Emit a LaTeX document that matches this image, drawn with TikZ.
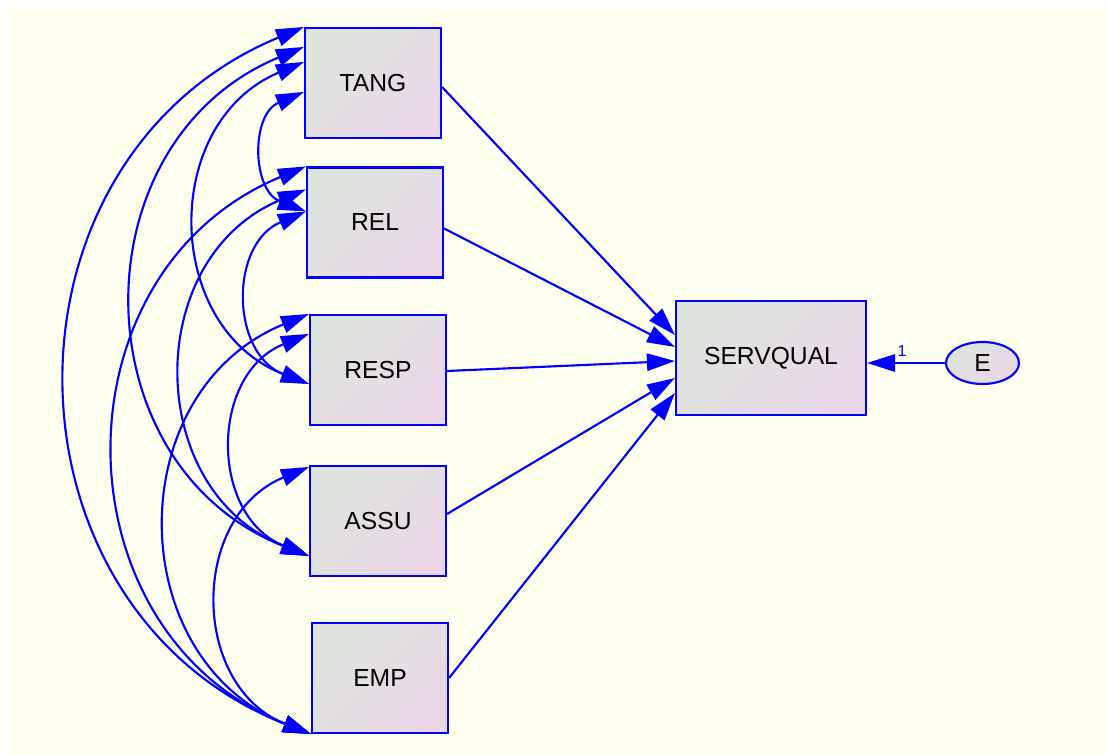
\documentclass[tikz,border=0pt]{standalone}
\usepackage{fontspec}
\setmainfont{Liberation Sans}
\usetikzlibrary{arrows.meta,calc,shapes.geometric}

\definecolor{amosblue}{rgb}{0,0,1}
\definecolor{boxgreen}{rgb}{0.87,0.90,0.87}
\definecolor{boxpink}{rgb}{0.92,0.84,0.91}
\definecolor{bgivory}{rgb}{1,1,0.94}

\tikzset{
  obsbox/.style={draw=amosblue, line width=1.6pt, top color=boxgreen, bottom color=boxpink, shading angle=45,
    minimum width=102pt, minimum height=82.5pt, inner sep=0pt, font=\fontsize{18.5}{20}\selectfont},
  errnode/.style={ellipse, draw=amosblue, line width=1.6pt, top color=boxgreen, bottom color=boxpink, shading angle=45,
    minimum width=54.75pt, minimum height=31.5pt, inner sep=0pt, font=\fontsize{18.5}{20}\selectfont},
  regarrow/.style={amosblue, line width=1.6pt, -{Triangle[length=21pt,width=13pt]}},
  covarrow/.style={amosblue, line width=1.6pt, {Triangle[length=21pt,width=13pt]}-{Triangle[length=21pt,width=13pt]},
    bend left=68, looseness=1.24}
}

\begin{document}
\begin{tikzpicture}[x=0.75pt,y=0.75pt,yscale=-1,xscale=1]
\useasboundingbox (0,0) rectangle (1108,755);

%Shape: Rectangle [background]
\fill [white] (0,0) rectangle (1108,755);
\fill [bgivory] (7,7) rectangle (1108,755);

% Observed variables
\node [obsbox] (TANG) at (373,83) {TANG};
\node [obsbox] (REL) at (375,222.5) {REL};
\node [obsbox] (RESP) at (378,370) {RESP};
\node [obsbox] (ASSU) at (378,521) {ASSU};
\node [obsbox] (EMP) at (380,678) {EMP};
\node [obsbox, minimum width=142.5pt, minimum height=85.5pt] (SERV) at (771,358) {SERVQUAL};
% Error term
\node [errnode] (E) at (982.5,363) {E};

% Attach points on the left sides
\coordinate (tang-1) at (TANG.north west);
\coordinate (tang-2) at ($(TANG.north west)+(0,20)$);
\coordinate (tang-3) at ($(TANG.north west)+(0,35)$);
\coordinate (tang-4) at ($(TANG.north west)+(0,65)$);
\coordinate (rel-1) at (REL.north west);
\coordinate (rel-2) at ($(REL.north west)+(0,23)$);
\coordinate (rel-3) at ($(REL.north west)+(0,45)$);
\coordinate (resp-1) at (RESP.north west);
\coordinate (resp-2) at ($(RESP.north west)+(0,20)$);
\coordinate (resp-3) at ($(RESP.north west)+(0,70)$);
\coordinate (assu-1) at ($(ASSU.north west)+(0,2)$);
\coordinate (assu-2) at ($(ASSU.north west)+(0,91)$);
\coordinate (emp-1) at (EMP.south west);

% Covariances
\draw [covarrow] (tang-1) to (emp-1);
\draw [covarrow] (tang-2) to (assu-2);
\draw [covarrow] (tang-3) to (resp-3);
\draw [covarrow] (tang-4) to (rel-3);
\draw [covarrow] (rel-1) to (emp-1);
\draw [covarrow] (rel-2) to (assu-2);
\draw [covarrow] (rel-3) to (resp-3);
\draw [covarrow] (resp-1) to (emp-1);
\draw [covarrow] (resp-2) to (assu-2);
\draw [covarrow] (assu-1) to (emp-1);

% Regressions
\draw [regarrow] ($(TANG.east)+(0,4)$) -- ($(SERV.west)+(0,-23)$);
\draw [regarrow] ($(REL.east)+(0,6)$) -- ($(SERV.west)+(0,-11)$);
\draw [regarrow] ($(RESP.east)+(0,1)$) -- ($(SERV.west)+(0,3)$);
\draw [regarrow] ($(ASSU.east)+(0,-7)$) -- ($(SERV.west)+(0,20)$);
\draw [regarrow] (EMP.east) -- ($(SERV.west)+(0,35)$);
\draw [regarrow] (E.west) -- (SERV.east |- E.west) node [pos=0.55, above=1pt, text=amosblue, font=\fontsize{12}{14}\selectfont] (one) {1};

\end{tikzpicture}
\end{document}
